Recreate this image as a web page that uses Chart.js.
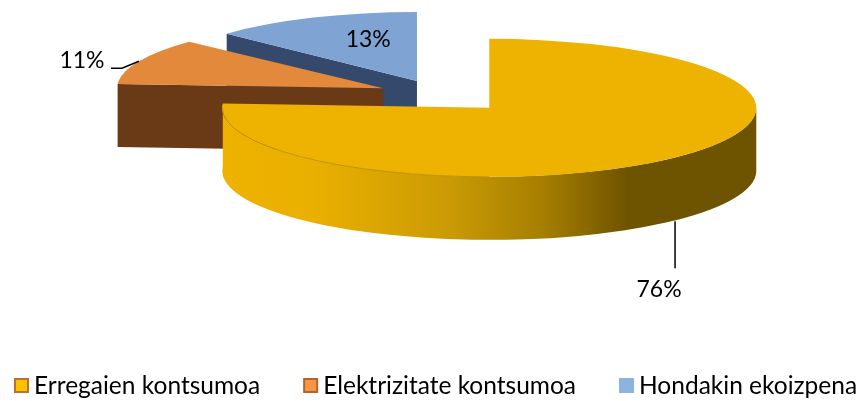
<!DOCTYPE html>
<html lang="en">
<head>
    <meta charset="UTF-8">
    <title>Kontsumoa</title>
    <style>
        body { margin: 0; background: #fff; }
        canvas { display: block; }
    </style>
</head>
<body>

    <canvas id="myChart" width="861" height="401"></canvas>

    <script src="https://cdn.jsdelivr.net/npm/chart.js"></script>

    <script>

        // Data
        const categories = ["Erregaien kontsumoa", "Elektrizitate kontsumoa", "Hondakin ekoizpena"];
        const shares = [76, 11, 13];

        // Colours
        const topColors = ["#EEB200", "#E2893B", "#7FA3D3"];
        const cutColors = ["#8A6A00", "#6A3A17", "#34496B"];
        const legendFill = ["#FFC000", "#F79646", "#8DB3E2"];
        const legendEdge = ["#B8742A", "#B5642A", "#8DB3E2"];

        // Fake 3D layout, back slices come out a bit smaller
        const center = { x: 440, y: 94.5 };
        const radiusX = [267, 266, 261];
        const radiusY = [69, 68, 69];
        const depth = 63;
        const explode = [72, 62, 58];
        const squash = 68 / 267;
        const labelFont = '23px Lato, "Open Sans", sans-serif';
        const legendFont = '24.5px Lato, "Open Sans", sans-serif';

        // where the apex of a slice ends up after exploding it
        function apex(arc, i) {
            const mid = (arc.startAngle + arc.endAngle) / 2;
            return {
                x: center.x + Math.cos(mid) * explode[i],
                y: center.y + Math.sin(mid) * explode[i] * squash
            };
        }

        function edgePoint(p, i, angle, f) {
            return { x: p.x + Math.cos(angle) * radiusX[i] * f, y: p.y + Math.sin(angle) * radiusY[i] * f };
        }

        // flat face going from the edge of the slice to the apex, pushed down by depth
        function drawCut(c, p, i, angle) {
            const e = edgePoint(p, i, angle, 1);
            c.fillStyle = cutColors[i];
            c.beginPath();
            c.moveTo(e.x, e.y);
            c.lineTo(p.x, p.y);
            c.lineTo(p.x, p.y + depth);
            c.lineTo(e.x, e.y + depth);
            c.closePath();
            c.fill();
        }

        function drawWall(c, p, i, from, to) {
            const rx = radiusX[i];
            const ry = radiusY[i];
            const grad = c.createLinearGradient(p.x - rx, 0, p.x + rx, 0);
            grad.addColorStop(0, "#EEB200");
            grad.addColorStop(0.17, "#EAB000");
            grad.addColorStop(0.42, "#CB9B05");
            grad.addColorStop(0.6, "#A67F00");
            grad.addColorStop(0.76, "#6E5300");
            grad.addColorStop(1, "#6E5300");
            c.fillStyle = grad;
            c.beginPath();
            c.ellipse(p.x, p.y, rx, ry, 0, from, to);
            c.ellipse(p.x, p.y + depth, rx, ry, 0, to, from, true);
            c.closePath();
            c.fill();
        }

        // top faces come from the library's own arcs, squashed into an ellipse
        function drawTop(c, arc, p, i) {
            c.save();
            c.translate(p.x, p.y);
            c.scale(radiusX[i] / arc.outerRadius, radiusY[i] / arc.outerRadius);
            c.translate(-arc.x, -arc.y);
            arc.draw(c);
            c.restore();
        }

        function drawLeader(c, points) {
            c.strokeStyle = "#000";
            c.lineWidth = 1.5;
            c.beginPath();
            points.forEach((pt, k) => k ? c.lineTo(pt[0], pt[1]) : c.moveTo(pt[0], pt[1]));
            c.stroke();
        }

        function drawLabels(c, arcs) {
            const mids = arcs.map(a => (a.startAngle + a.endAngle) / 2);

            const a0 = edgePoint(apex(arcs[0], 0), 0, mids[0], 1);
            a0.x += 3;
            drawLeader(c, [[a0.x, a0.y + depth], [a0.x, a0.y + depth + 47]]);

            const a1 = edgePoint(apex(arcs[1], 1), 1, mids[1], 1);
            drawLeader(c, [[a1.x, a1.y], [a1.x - 17, a1.y + 7], [a1.x - 28, a1.y + 7]]);

            const a2 = edgePoint(apex(arcs[2], 2), 2, mids[2], 0.47);

            c.fillStyle = "#000";
            c.font = labelFont;
            c.textAlign = "center";
            c.textBaseline = "middle";
            c.fillText(shares[0] + "%", a0.x - 16, a0.y + depth + 68);
            c.fillText(shares[1] + "%", a1.x - 57, a1.y - 1);
            c.fillText(shares[2] + "%", a2.x, a2.y - 12);
        }

        function drawLegend(c) {
            let x = 14;
            const y = 386;
            c.font = legendFont;
            c.textAlign = "left";
            c.textBaseline = "middle";
            categories.forEach((name, i) => {
                c.fillStyle = legendFill[i];
                c.strokeStyle = legendEdge[i];
                c.lineWidth = 2;
                c.fillRect(x + 1, y - 7, 13, 13);
                c.strokeRect(x + 1, y - 7, 13, 13);
                c.fillStyle = "#000";
                c.fillText(name, x + 20, y);
                x += 20 + c.measureText(name).width + 43;
            });
        }

        const pie3d = {
            id: "pie3d",
            beforeDatasetDraw(chart, args) {
                const c = chart.ctx;
                const arcs = chart.getDatasetMeta(args.index).data;
                const apexes = arcs.map(apex);

                // back to front: blue, orange, yellow
                drawCut(c, apexes[2], 2, arcs[2].startAngle);
                drawTop(c, arcs[2], apexes[2], 2);

                drawCut(c, apexes[1], 1, arcs[1].startAngle);
                drawTop(c, arcs[1], apexes[1], 1);

                drawWall(c, apexes[0], 0, 0, arcs[0].endAngle);
                drawTop(c, arcs[0], apexes[0], 0);

                // thin shaded rim where the yellow top meets the wall
                c.strokeStyle = "#BE9200";
                c.lineWidth = 1;
                c.beginPath();
                c.ellipse(apexes[0].x, apexes[0].y, radiusX[0], radiusY[0], 0, Math.PI / 2, Math.PI);
                c.stroke();

                drawLabels(c, arcs);
                drawLegend(c);
                return false;
            }
        };

        const ctx = document.getElementById("myChart");

        new Chart(ctx, {
            type: "pie",
            data: {
                labels: categories,
                datasets: [{
                    data: shares,
                    backgroundColor: topColors,
                    borderWidth: 0
                }]
            },
            options: {
                responsive: false,
                animation: false,
                plugins: {
                    legend: { display: false },
                    tooltip: { enabled: false }
                }
            },
            plugins: [pie3d]
        });
    </script>

</body>
</html>
